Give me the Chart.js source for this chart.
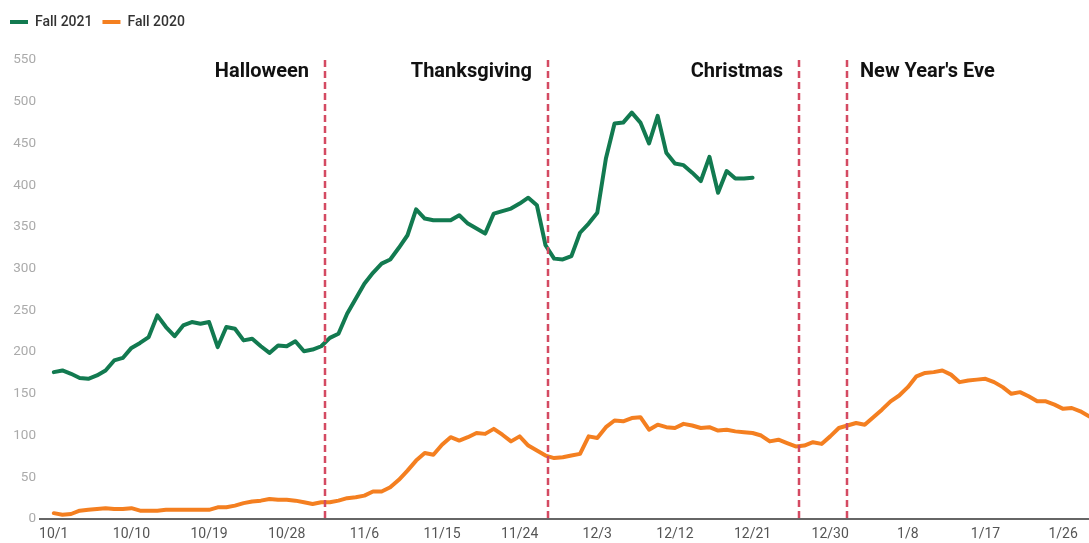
<!DOCTYPE html>
<html><head><meta charset="utf-8">
<script src="https://cdn.jsdelivr.net/npm/chart.js@4.4.1/dist/chart.umd.min.js"></script>
<style>html,body{margin:0;padding:0;background:#fff}#wrap{width:1089px;height:543px;position:relative}</style>
</head><body><div id="wrap"><canvas id="c"></canvas></div>
<script>
// Categories: one per day, 10/1 through 1/29
const dates = [
 '10/1','10/2','10/3','10/4','10/5','10/6','10/7','10/8','10/9','10/10','10/11','10/12','10/13','10/14','10/15','10/16','10/17','10/18','10/19','10/20','10/21','10/22','10/23','10/24','10/25','10/26','10/27','10/28','10/29','10/30','10/31',
 '11/1','11/2','11/3','11/4','11/5','11/6','11/7','11/8','11/9','11/10','11/11','11/12','11/13','11/14','11/15','11/16','11/17','11/18','11/19','11/20','11/21','11/22','11/23','11/24','11/25','11/26','11/27','11/28','11/29','11/30',
 '12/1','12/2','12/3','12/4','12/5','12/6','12/7','12/8','12/9','12/10','12/11','12/12','12/13','12/14','12/15','12/16','12/17','12/18','12/19','12/20','12/21','12/22','12/23','12/24','12/25','12/26','12/27','12/28','12/29','12/30','12/31',
 '1/1','1/2','1/3','1/4','1/5','1/6','1/7','1/8','1/9','1/10','1/11','1/12','1/13','1/14','1/15','1/16','1/17','1/18','1/19','1/20','1/21','1/22','1/23','1/24','1/25','1/26','1/27','1/28','1/29'
];
const tickLabels = ['10/1','10/10','10/19','10/28','11/6','11/15','11/24','12/3','12/12','12/21','12/30','1/8','1/17','1/26'];
const yTicks = [0,50,100,150,200,250,300,350,400,450,500,550];

const fall2021 = [176,178,174,169,168,172,178,190,193,205,211,218,244,230,219,232,236,234,236,206,230,228,214,216,207,199,208,207,213,201,203,207,217,222,246,264,282,295,306,311,325,340,371,360,358,358,358,364,354,348,342,366,369,372,378,385,376,328,312,311,315,343,354,367,432,474,475,487,475,450,483,439,426,424,415,405,434,391,417,408,408,409];
const fall2020 = [7,5,6,10,11,12,13,12,12,13,10,10,10,11,11,11,11,11,11,14,14,16,19,21,22,24,23,23,22,20,18,20,20,22,25,26,28,33,33,38,47,58,70,79,77,89,98,94,98,103,102,108,101,93,99,88,82,76,73,74,76,78,99,97,110,118,117,121,122,107,113,110,109,114,112,109,110,106,107,105,104,103,100,93,95,91,87,88,92,90,99,109,112,115,113,122,131,141,148,158,171,175,176,178,173,164,166,167,168,164,158,150,152,147,141,141,137,132,133,129,123];

const eventNames = ['Halloween','Thanksgiving','Christmas',"New Year's Eve"];
const eventDays = [31.4, 57.3, 86.4, 91.9];
const eventSides = ['left','left','left','right'];

const tickDays = tickLabels.map(l => dates.indexOf(l));

const legendSpacer = {
  id: 'legendSpacer',
  beforeInit(chart) {
    const orig = chart.legend.fit;
    chart.legend.fit = function () { orig.call(this); this.height += 21; };
  }
};

const eventLines = {
  id: 'eventLines',
  afterDatasetsDraw(chart) {
    const {ctx, chartArea, scales: {x}} = chart;
    ctx.save();
    eventDays.forEach((d, k) => {
      const px = Math.round(x.getPixelForValue(d));
      ctx.beginPath();
      ctx.setLineDash([7, 4]);
      ctx.strokeStyle = '#d44a62';
      ctx.lineWidth = 2.5;
      ctx.moveTo(px, chartArea.top);
      ctx.lineTo(px, chartArea.bottom);
      ctx.stroke();
      ctx.setLineDash([]);
      ctx.font = 'bold 20px Roboto';
      ctx.fillStyle = '#111';
      ctx.textBaseline = 'middle';
      const right = eventSides[k] === 'right';
      ctx.textAlign = right ? 'left' : 'right';
      ctx.fillText(eventNames[k], px + (right ? 13 : -16), chartArea.top + 12);
    });
    ctx.restore();
  }
};

new Chart(document.getElementById('c'), {
  type: 'line',
  data: {
    datasets: [
      { label: 'Fall 2021', data: fall2021.map((v, i) => ({x: i, y: v})), borderColor: '#127a50', backgroundColor: '#127a50',
        borderWidth: 4, pointRadius: 0, tension: 0, borderCapStyle: 'round', borderJoinStyle: 'round' },
      { label: 'Fall 2020', data: fall2020.map((v, i) => ({x: i, y: v})), borderColor: '#f47f20', backgroundColor: '#f47f20',
        borderWidth: 4, pointRadius: 0, tension: 0, borderCapStyle: 'round', borderJoinStyle: 'round' }
    ]
  },
  options: {
    responsive: true, maintainAspectRatio: false, animation: false, devicePixelRatio: 1,
    layout: { padding: { top: 5, right: 0, left: 0, bottom: 0 } },
    plugins: {
      legend: {
        position: 'top', align: 'start',
        labels: { usePointStyle: true, pointStyle: 'line', pointStyleWidth: 18, padding: 10,
          color: '#333', font: { family: 'Roboto', size: 14, weight: '500' } }
      },
      tooltip: { enabled: false }
    },
    scales: {
      x: {
        type: 'linear', min: -1.6, max: 120,
        grid: { display: false, drawTicks: false },
        border: { display: true, color: '#666', width: 2 },
        afterBuildTicks: s => { s.ticks = tickDays.map(v => ({value: v})); },
        afterFit: s => { s.height = 24; },
        ticks: { autoSkip: false, maxRotation: 0, padding: 7, color: '#555',
          font: { family: 'Roboto', size: 14 }, callback: v => dates[v] }
      },
      y: {
        min: 0, max: 550,
        grid: { display: false, drawTicks: false },
        border: { display: false },
        afterBuildTicks: s => { s.ticks = yTicks.map(v => ({value: v})); },
        afterFit: s => { s.width = 40; },
        ticks: { padding: 4, color: '#aaa', font: { family: 'Roboto', size: 13.5 } }
      }
    }
  },
  plugins: [legendSpacer, eventLines]
});
</script></body></html>
